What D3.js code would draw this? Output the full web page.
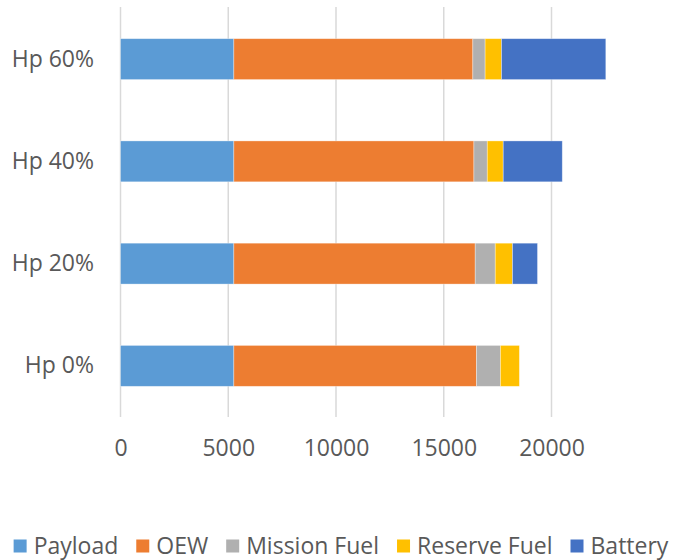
<!DOCTYPE html>
<html>
<head>
<meta charset="utf-8">
<script src="https://cdn.jsdelivr.net/npm/d3@7"></script>
<style>
  body { margin: 0; background: #fff; }
  text { font-family: "Open Sans", sans-serif; fill: #595959; }
</style>
</head>
<body>
<script>
// chart data
var categories = ["Hp 60%", "Hp 40%", "Hp 20%", "Hp 0%"];
var seriesNames = ["Payload", "OEW", "Mission Fuel", "Reserve Fuel", "Battery"];
var seriesColors = ["#5B9BD5", "#ED7D31", "#B0B0B0", "#FFC000", "#4472C4"];
var payload = [5260, 5260, 5260, 5260];
var oew = [11090, 11140, 11200, 11260];
var missionFuel = [570, 620, 930, 1110];
var reserveFuel = [760, 740, 800, 880];
var battery = [4840, 2740, 1160, 0];
var xTicks = [0, 5000, 10000, 15000, 20000];

var width = 675, height = 560;
var fontSize = "23px";

var svg = d3.select("body").append("svg")
	.attr("width", width)
	.attr("height", height);

// build rows for the stack
var rows = categories.map(function (c, i) {
	return {
		cat: c,
		"Payload": payload[i],
		"OEW": oew[i],
		"Mission Fuel": missionFuel[i],
		"Reserve Fuel": reserveFuel[i],
		"Battery": battery[i]
	};
});
var stacked = d3.stack().keys(seriesNames)(rows);

// scales
var x = d3.scaleLinear()
	.domain([0, 20000])
	.range([120.5, 551.5]);

var y = d3.scaleBand()
	.domain(categories)
	.range([8, 417])
	.paddingInner(0.6)
	.paddingOuter(0.3);

// vertical gridlines
svg.append("g")
	.selectAll("line")
	.data(xTicks)
	.enter()
	.append("line")
	.attr("x1", function (d) { return x(d); })
	.attr("x2", function (d) { return x(d); })
	.attr("y1", 7)
	.attr("y2", 417)
	.attr("stroke", "#D9D9D9")
	.attr("stroke-width", 1.5);

// bars
svg.append("g")
	.selectAll("g")
	.data(stacked)
	.enter()
	.append("g")
	.attr("fill", function (d, i) { return seriesColors[i]; })
	.selectAll("rect")
	.data(function (d) { return d; })
	.enter()
	.append("rect")
	.attr("x", function (d) { return x(d[0]); })
	.attr("width", function (d) { return Math.max(0, x(d[1]) - x(d[0])); })
	.attr("y", function (d) { return y(d.data.cat); })
	.attr("height", y.bandwidth())
	.attr("stroke", "#fff")
	.attr("stroke-opacity", 0.45)
	.attr("stroke-width", 0.75);

// x axis labels
var xaxis = d3.axisBottom(x)
	.tickValues(xTicks)
	.tickSize(0)
	.tickPadding(0)
	.tickFormat(d3.format("d"));
var gx = svg.append("g")
	.attr("transform", "translate(0,442)")
	.call(xaxis);
gx.select(".domain").remove();
gx.selectAll("text")
	.attr("dy", "0.6em")
	.style("font-size", fontSize)
	.attr("fill", "#595959");

// y axis labels
var yaxis = d3.axisLeft(y)
	.tickSize(0)
	.tickPadding(0);
var gy = svg.append("g")
	.attr("transform", "translate(94,0)")
	.call(yaxis);
gy.select(".domain").remove();
gy.selectAll("text")
	.style("font-size", fontSize)
	.attr("fill", "#595959");

// legend
var legend = svg.append("g");
var sq = 13, gapText = 7, gapItem = 18;
var xpos = 0;
var items = legend.selectAll("g")
	.data(seriesNames)
	.enter()
	.append("g");
items.append("rect")
	.attr("width", sq)
	.attr("height", sq)
	.attr("y", -sq / 2)
	.attr("fill", function (d, i) { return seriesColors[i]; });
items.append("text")
	.attr("x", sq + gapText)
	.attr("dy", "0.35em")
	.style("font-size", fontSize)
	.text(function (d) { return d; });
items.each(function () {
	var g = d3.select(this);
	g.attr("transform", "translate(" + xpos + ",0)");
	xpos += sq + gapText + g.select("text").node().getComputedTextLength() + gapItem;
});
var totalW = xpos - gapItem;
legend.attr("transform", "translate(" + (341 - totalW / 2) + ",546)");
</script>
</body>
</html>
